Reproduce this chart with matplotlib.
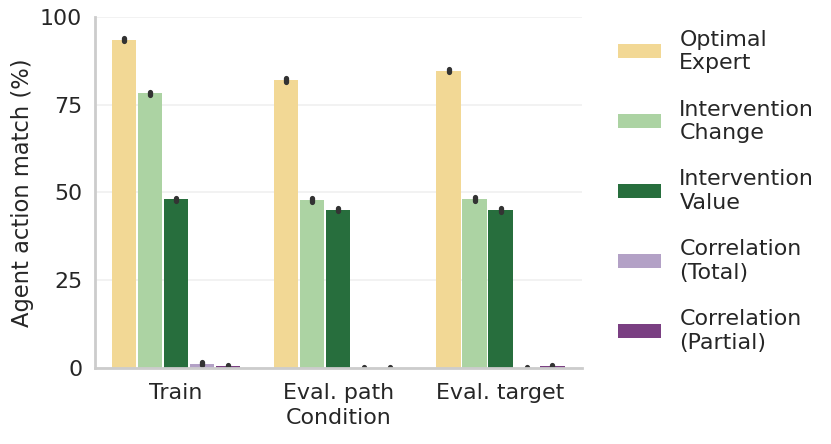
import numpy as np
import matplotlib
matplotlib.use("Agg")
import matplotlib.pyplot as plt
from matplotlib.patches import Patch

# values
conditions = ["Train", "Eval. path", "Eval. target"]
methods = ["Optimal\nExpert", "Intervention\nChange", "Intervention\nValue",
           "Correlation\n(Total)", "Correlation\n(Partial)"]
colors = ["#f2d895", "#acd3a3", "#276e3d", "#b3a1c6", "#7a3f82"]

optimal_expert = [93.5, 82.0, 84.7]
intervention_change = [78.2, 47.8, 48.2]
intervention_value = [48.0, 45.1, 45.0]
correlation_total = [1.3, 0.1, 0.1]
correlation_partial = [0.5, 0.1, 0.5]

optimal_expert_err = [0.5, 0.5, 0.5]
intervention_change_err = [0.5, 0.5, 0.5]
intervention_value_err = [0.5, 0.5, 0.5]
correlation_total_err = [0.4, 0.3, 0.3]
correlation_partial_err = [0.3, 0.3, 0.3]

values = [optimal_expert, intervention_change, intervention_value,
          correlation_total, correlation_partial]
errors = [optimal_expert_err, intervention_change_err, intervention_value_err,
          correlation_total_err, correlation_partial_err]

plt.rcParams['font.family'] = ['DejaVu Sans']
fs = 15.9

fig = plt.figure(figsize=(8.31, 4.44), dpi=100)
ax = fig.add_axes([0.114, 0.171, 0.586, 0.791])

x = np.arange(len(conditions))
slot = 0.16
for i, (vals, errs) in enumerate(zip(values, errors)):
    pos = x + (i - 2) * slot
    ax.bar(pos, vals, width=0.15, color=colors[i], zorder=2)
    v = np.array(vals)
    e = np.array(errs)
    ax.vlines(pos, v - e, v + e, color="#333333", linewidth=3.8,
              capstyle="round", zorder=3)

ax.set_xlim(-0.5, 2.5)
ax.set_ylim(0, 100)
ax.set_yticks([0, 25, 50, 75, 100])
ax.set_xticks(x)
ax.set_xticklabels(conditions)
ax.tick_params(axis="y", length=0, labelsize=fs, labelcolor="#262626", pad=9)
ax.tick_params(axis="x", length=0, labelsize=fs, labelcolor="#262626", pad=11)
ax.set_xlabel("Condition", fontsize=fs, color="#262626", labelpad=3)
ax.set_ylabel("Agent action match (%)", fontsize=fs + 0.4, color="#262626", labelpad=4)

ax.grid(axis="y", color="#f0f0f0", linewidth=1.2, zorder=0)
ax.set_axisbelow(True)
for s in ["top", "right"]:
    ax.spines[s].set_visible(False)
for s in ["left", "bottom"]:
    ax.spines[s].set_color("#cccccc")
    ax.spines[s].set_linewidth(2)
    ax.spines[s].set_zorder(4)

handles = [Patch(facecolor=c, label=m) for c, m in zip(colors, methods)]
fig.legend(handles=handles, loc="upper left", bbox_to_anchor=(0.72, 0.978),
           frameon=False, fontsize=fs, labelcolor="#262626",
           handlelength=1.95, handleheight=0.6, handletextpad=0.82,
           labelspacing=1.21)

fig.savefig("out.png", dpi=100)
